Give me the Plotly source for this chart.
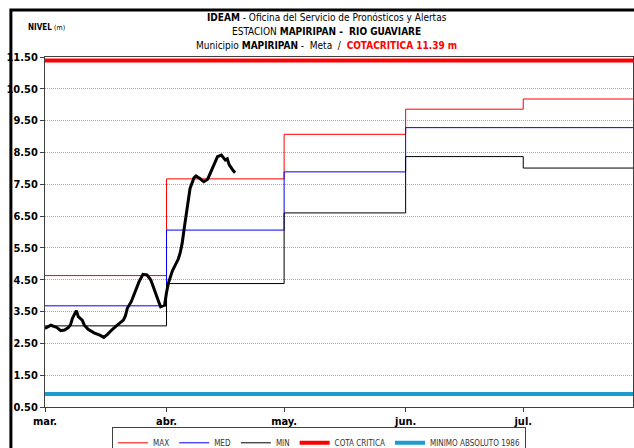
import pandas as pd
import plotly.graph_objects as go

# niveles observados (m)
fechas_obs = [
    "2013-03-01 00:00", "2013-03-02 12:00", "2013-03-04 00:00", "2013-03-05 00:00",
    "2013-03-06 00:00", "2013-03-07 00:00", "2013-03-07 12:00", "2013-03-08 00:00",
    "2013-03-09 00:00", "2013-03-09 12:00", "2013-03-10 12:00", "2013-03-11 00:00",
    "2013-03-12 00:00", "2013-03-13 12:00", "2013-03-15 00:00", "2013-03-16 00:00",
    "2013-03-17 00:00", "2013-03-18 00:00", "2013-03-19 12:00", "2013-03-21 00:00",
    "2013-03-21 12:00", "2013-03-22 00:00", "2013-03-23 00:00", "2013-03-24 00:00",
    "2013-03-25 00:00", "2013-03-26 00:00", "2013-03-27 00:00", "2013-03-28 00:00",
    "2013-03-29 00:00", "2013-03-29 12:00", "2013-03-30 00:00", "2013-03-30 12:00",
    "2013-03-31 12:00", "2013-04-01 00:00", "2013-04-01 12:00", "2013-04-02 12:00",
    "2013-04-03 00:00", "2013-04-04 00:00", "2013-04-04 12:00", "2013-04-05 00:00",
    "2013-04-05 12:00", "2013-04-06 00:00", "2013-04-06 12:00", "2013-04-07 00:00",
    "2013-04-08 00:00", "2013-04-08 12:00", "2013-04-09 12:00", "2013-04-10 12:00",
    "2013-04-11 12:00", "2013-04-12 12:00", "2013-04-13 00:00", "2013-04-14 00:00",
    "2013-04-15 00:00", "2013-04-16 00:00", "2013-04-16 12:00", "2013-04-17 00:00",
    "2013-04-18 00:00", "2013-04-18 12:00",
]
nivel_obs = [
    2.97, 3.07, 3.00, 2.90,
    2.92, 3.00, 3.08, 3.29,
    3.53, 3.34, 3.23, 3.08,
    2.94, 2.83, 2.76, 2.69,
    2.79, 2.92, 3.08, 3.23,
    3.36, 3.60, 3.81, 4.12,
    4.44, 4.67, 4.65, 4.49,
    4.18, 3.97, 3.81, 3.65,
    3.70, 4.10, 4.40, 4.78,
    4.91, 5.15, 5.35, 5.65,
    6.10, 6.55, 7.00, 7.37,
    7.70, 7.76, 7.68, 7.58,
    7.66, 7.95, 8.05, 8.37,
    8.42, 8.26, 8.30, 8.11,
    7.93, 7.86,
]

# niveles historicos mensuales
fechas_mes = ["2013-03-01", "2013-04-01", "2013-05-01", "2013-06-01", "2013-07-01", "2013-07-29"]
nivel_max = [4.63, 7.67, 9.07, 9.86, 10.18, 10.18]
nivel_med = [3.68, 6.06, 7.89, 9.28, 9.28, 9.28]
nivel_min = [3.05, 4.38, 6.60, 8.37, 8.01, 8.01]

cota_critica = 11.39
minimo_absoluto = 0.91

tick_fechas = ["2013-03-01", "2013-04-01", "2013-05-01", "2013-06-01", "2013-07-01"]
tick_meses = ["mar.", "abr.", "may.", "jun.", "jul."]
y_ticks = [0.5, 1.5, 2.5, 3.5, 4.5, 5.5, 6.5, 7.5, 8.5, 9.5, 10.5, 11.5]

FONT = "DejaVu Sans Condensed, Arial Narrow, Arial"

fig = go.Figure()

fig.add_trace(go.Scatter(x=fechas_mes, y=nivel_max, mode="lines", name="MAX",
                         line=dict(color="#ff0000", width=1, shape="hv")))
fig.add_trace(go.Scatter(x=fechas_mes, y=nivel_med, mode="lines", name="MED",
                         line=dict(color="#0000ff", width=1, shape="hv")))
fig.add_trace(go.Scatter(x=fechas_mes, y=nivel_min, mode="lines", name="MIN",
                         line=dict(color="#000000", width=1, shape="hv")))
fig.add_trace(go.Scatter(x=[fechas_mes[0], fechas_mes[-1]], y=[cota_critica] * 2,
                         mode="lines", name="COTA CRITICA",
                         line=dict(color="#ff0000", width=4)))
fig.add_trace(go.Scatter(x=[fechas_mes[0], fechas_mes[-1]], y=[minimo_absoluto] * 2,
                         mode="lines", name="MINIMO ABSOLUTO 1986",
                         line=dict(color="#1b9bd0", width=4)))
fig.add_trace(go.Scatter(x=fechas_obs, y=nivel_obs, mode="lines", showlegend=False,
                         line=dict(color="#000000", width=3)))

fig.update_layout(
    width=634, height=448,
    margin=dict(l=45, r=1, t=57, b=41, autoexpand=False),
    paper_bgcolor="white", plot_bgcolor="white",
    font=dict(family=FONT, size=10, color="#000"),
    showlegend=True,
    legend=dict(orientation="h", x=0.466, xanchor="center", y=-0.058, yanchor="top",
                bordercolor="#404040", borderwidth=1, font=dict(size=8, color="#333"),
                itemwidth=30, tracegroupgap=0),
)

fig.update_xaxes(
    range=[fechas_mes[0], fechas_mes[-1]], tickvals=tick_fechas, ticktext=tick_meses,
    showgrid=False, showline=True, linecolor="#404040", mirror=True,
    ticks="outside", ticklen=4, tickcolor="#404040", automargin=False,
    tickfont=dict(size=11, weight="bold"),
)
fig.update_yaxes(
    range=[0.5, 11.5], tickvals=y_ticks, tickformat=".2f",
    showgrid=True, gridcolor="#a8a8a8", griddash="1px,1px", gridwidth=1,
    showline=True, linecolor="#404040", mirror=True,
    ticks="outside", ticklen=4, tickcolor="#404040", automargin=False,
    tickfont=dict(size=11, weight="bold"), zeroline=False,
)

# titulo
fig.add_annotation(xref="paper", yref="paper", x=0.479, y=1.114, yanchor="middle",
                   showarrow=False,
                   text="<b>IDEAM</b> - Oficina del Servicio de Pronósticos y Alertas",
                   font=dict(size=10))
fig.add_annotation(xref="paper", yref="paper", x=0.479, y=1.074, yanchor="middle",
                   showarrow=False,
                   text="ESTACION <b>MAPIRIPAN -  RIO GUAVIARE</b>", font=dict(size=10))
fig.add_annotation(xref="paper", yref="paper", x=0.479, y=1.034, yanchor="middle",
                   showarrow=False,
                   text="Municipio <b>MAPIRIPAN</b> -  Meta  /  "
                        "<b><span style='color:#ff0000'>COTACRITICA 11.39 m</span></b>",
                   font=dict(size=10))
fig.add_annotation(xref="paper", yref="paper", x=0.002, y=1.083, yanchor="middle",
                   xanchor="center", showarrow=False,
                   text="<b>NIVEL</b> <span style='font-size:7px'>(m)</span>",
                   font=dict(size=8))

# marco exterior
fig.add_shape(type="rect", xref="paper", yref="paper",
              x0=-0.058, x1=1.1, y0=-0.3, y1=1.134,
              line=dict(color="black", width=3), layer="above")

fig.write_html("out.html", config={"displayModeBar": False},
               post_script="document.body.style.margin = '0';")
